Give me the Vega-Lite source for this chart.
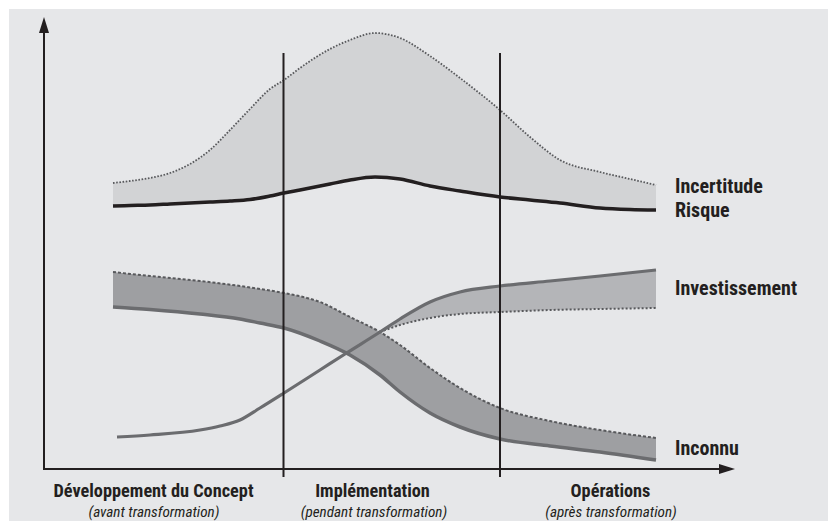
{
  "$schema": "https://vega.github.io/schema/vega-lite/v6.json",
  "width": 819,
  "height": 512,
  "autosize": {"type": "none"},
  "padding": {"left": 9, "top": 9, "right": 4, "bottom": 0},
  "background": "#ffffff",
  "config": {"view": {"fill": "#e6e7e9", "stroke": null}},
  "datasets": {
    "bands": [
      {"b": "unc", "t": 69, "v": 286, "v2": 263},
      {"b": "unc", "t": 86, "v": 288, "v2": 263.5},
      {"b": "unc", "t": 106, "v": 291, "v2": 264},
      {"b": "unc", "t": 126, "v": 296, "v2": 265},
      {"b": "unc", "t": 146, "v": 305, "v2": 266},
      {"b": "unc", "t": 166, "v": 319, "v2": 267},
      {"b": "unc", "t": 186, "v": 339, "v2": 268},
      {"b": "unc", "t": 206, "v": 360, "v2": 269.5},
      {"b": "unc", "t": 226, "v": 380, "v2": 273},
      {"b": "unc", "t": 240, "v": 389, "v2": 276},
      {"b": "unc", "t": 256, "v": 401, "v2": 279},
      {"b": "unc", "t": 286, "v": 420, "v2": 285},
      {"b": "unc", "t": 306, "v": 429, "v2": 289},
      {"b": "unc", "t": 331, "v": 436, "v2": 292},
      {"b": "unc", "t": 356, "v": 431, "v2": 290},
      {"b": "unc", "t": 386, "v": 413, "v2": 283},
      {"b": "unc", "t": 416, "v": 391, "v2": 278},
      {"b": "unc", "t": 456, "v": 359, "v2": 272},
      {"b": "unc", "t": 486, "v": 332, "v2": 269},
      {"b": "unc", "t": 516, "v": 309, "v2": 266},
      {"b": "unc", "t": 556, "v": 297, "v2": 261},
      {"b": "unc", "t": 586, "v": 290, "v2": 259.5},
      {"b": "unc", "t": 612, "v": 284, "v2": 259},
      {"b": "unk", "t": 69, "v": 197, "v2": 162},
      {"b": "unk", "t": 106, "v": 193, "v2": 159.5},
      {"b": "unk", "t": 156, "v": 188, "v2": 155},
      {"b": "unk", "t": 196, "v": 183, "v2": 150},
      {"b": "unk", "t": 216, "v": 180, "v2": 146},
      {"b": "unk", "t": 240, "v": 176, "v2": 141},
      {"b": "unk", "t": 276, "v": 167, "v2": 128},
      {"b": "unk", "t": 306, "v": 152, "v2": 114},
      {"b": "unk", "t": 336, "v": 137, "v2": 94},
      {"b": "unk", "t": 356, "v": 124, "v2": 77},
      {"b": "unk", "t": 386, "v": 101, "v2": 56},
      {"b": "unk", "t": 416, "v": 81, "v2": 42},
      {"b": "unk", "t": 456, "v": 61, "v2": 30},
      {"b": "unk", "t": 506, "v": 48, "v2": 23},
      {"b": "unk", "t": 556, "v": 39, "v2": 17},
      {"b": "unk", "t": 612, "v": 31, "v2": 9},
      {"b": "inv", "t": 336, "v": 137, "v2": 137},
      {"b": "inv", "t": 356, "v": 150, "v2": 144},
      {"b": "inv", "t": 386, "v": 167, "v2": 151},
      {"b": "inv", "t": 416, "v": 177, "v2": 155},
      {"b": "inv", "t": 456, "v": 183, "v2": 157},
      {"b": "inv", "t": 506, "v": 188, "v2": 159},
      {"b": "inv", "t": 556, "v": 193, "v2": 160},
      {"b": "inv", "t": 612, "v": 199, "v2": 161}
    ],
    "curves": [
      {"c": "uncUp", "t": 69, "v": 286}, {"c": "uncUp", "t": 86, "v": 288}, {"c": "uncUp", "t": 106, "v": 291},
      {"c": "uncUp", "t": 126, "v": 296}, {"c": "uncUp", "t": 146, "v": 305}, {"c": "uncUp", "t": 166, "v": 319},
      {"c": "uncUp", "t": 186, "v": 339}, {"c": "uncUp", "t": 206, "v": 360}, {"c": "uncUp", "t": 226, "v": 380},
      {"c": "uncUp", "t": 240, "v": 389}, {"c": "uncUp", "t": 256, "v": 401}, {"c": "uncUp", "t": 286, "v": 420},
      {"c": "uncUp", "t": 306, "v": 429}, {"c": "uncUp", "t": 331, "v": 436}, {"c": "uncUp", "t": 356, "v": 431},
      {"c": "uncUp", "t": 386, "v": 413}, {"c": "uncUp", "t": 416, "v": 391}, {"c": "uncUp", "t": 456, "v": 359},
      {"c": "uncUp", "t": 486, "v": 332}, {"c": "uncUp", "t": 516, "v": 309}, {"c": "uncUp", "t": 556, "v": 297},
      {"c": "uncUp", "t": 586, "v": 290}, {"c": "uncUp", "t": 612, "v": 284},
      {"c": "uncLo", "t": 69, "v": 263}, {"c": "uncLo", "t": 86, "v": 263.5}, {"c": "uncLo", "t": 106, "v": 264},
      {"c": "uncLo", "t": 126, "v": 265}, {"c": "uncLo", "t": 146, "v": 266}, {"c": "uncLo", "t": 166, "v": 267},
      {"c": "uncLo", "t": 186, "v": 268}, {"c": "uncLo", "t": 206, "v": 269.5}, {"c": "uncLo", "t": 226, "v": 273},
      {"c": "uncLo", "t": 240, "v": 276}, {"c": "uncLo", "t": 256, "v": 279}, {"c": "uncLo", "t": 286, "v": 285},
      {"c": "uncLo", "t": 306, "v": 289}, {"c": "uncLo", "t": 331, "v": 292}, {"c": "uncLo", "t": 356, "v": 290},
      {"c": "uncLo", "t": 386, "v": 283}, {"c": "uncLo", "t": 416, "v": 278}, {"c": "uncLo", "t": 456, "v": 272},
      {"c": "uncLo", "t": 486, "v": 269}, {"c": "uncLo", "t": 516, "v": 266}, {"c": "uncLo", "t": 556, "v": 261},
      {"c": "uncLo", "t": 586, "v": 259.5}, {"c": "uncLo", "t": 612, "v": 259},
      {"c": "unkUp", "t": 69, "v": 197}, {"c": "unkUp", "t": 106, "v": 193}, {"c": "unkUp", "t": 156, "v": 188},
      {"c": "unkUp", "t": 196, "v": 183}, {"c": "unkUp", "t": 216, "v": 180}, {"c": "unkUp", "t": 240, "v": 176},
      {"c": "unkUp", "t": 276, "v": 167}, {"c": "unkUp", "t": 306, "v": 152}, {"c": "unkUp", "t": 336, "v": 137},
      {"c": "unkUp", "t": 356, "v": 124}, {"c": "unkUp", "t": 386, "v": 101}, {"c": "unkUp", "t": 416, "v": 81},
      {"c": "unkUp", "t": 456, "v": 61}, {"c": "unkUp", "t": 506, "v": 48}, {"c": "unkUp", "t": 556, "v": 39},
      {"c": "unkUp", "t": 612, "v": 31},
      {"c": "unkLo", "t": 69, "v": 162}, {"c": "unkLo", "t": 106, "v": 159.5}, {"c": "unkLo", "t": 156, "v": 155},
      {"c": "unkLo", "t": 196, "v": 150}, {"c": "unkLo", "t": 216, "v": 146}, {"c": "unkLo", "t": 240, "v": 141},
      {"c": "unkLo", "t": 276, "v": 128}, {"c": "unkLo", "t": 306, "v": 114}, {"c": "unkLo", "t": 336, "v": 94},
      {"c": "unkLo", "t": 356, "v": 77}, {"c": "unkLo", "t": 386, "v": 56}, {"c": "unkLo", "t": 416, "v": 42},
      {"c": "unkLo", "t": 456, "v": 30}, {"c": "unkLo", "t": 506, "v": 23}, {"c": "unkLo", "t": 556, "v": 17},
      {"c": "unkLo", "t": 612, "v": 9},
      {"c": "invLo", "t": 336, "v": 137}, {"c": "invLo", "t": 356, "v": 144}, {"c": "invLo", "t": 386, "v": 151},
      {"c": "invLo", "t": 416, "v": 155}, {"c": "invLo", "t": 456, "v": 157}, {"c": "invLo", "t": 506, "v": 159},
      {"c": "invLo", "t": 556, "v": 160}, {"c": "invLo", "t": 612, "v": 161},
      {"c": "inv", "t": 73, "v": 32}, {"c": "inv", "t": 106, "v": 34}, {"c": "inv", "t": 156, "v": 39},
      {"c": "inv", "t": 176, "v": 43}, {"c": "inv", "t": 196, "v": 49}, {"c": "inv", "t": 216, "v": 61},
      {"c": "inv", "t": 240, "v": 76}, {"c": "inv", "t": 276, "v": 99}, {"c": "inv", "t": 301, "v": 115},
      {"c": "inv", "t": 336, "v": 137}, {"c": "inv", "t": 356, "v": 150}, {"c": "inv", "t": 386, "v": 167},
      {"c": "inv", "t": 416, "v": 177}, {"c": "inv", "t": 456, "v": 183}, {"c": "inv", "t": 506, "v": 188},
      {"c": "inv", "t": 556, "v": 193}, {"c": "inv", "t": 612, "v": 199}
    ],
    "vrules": [
      {"name": "yAxis", "t": 0, "v": -1, "v2": 437},
      {"name": "phase1", "t": 239.5, "v": -8, "v2": 416},
      {"name": "phase2", "t": 456, "v": -8, "v2": 416}
    ],
    "hrules": [
      {"name": "xAxis", "t": -1, "t2": 676, "v": 0}
    ],
    "arrowsUp": [{"t": 0, "v": 444}],
    "arrowsRight": [{"t": 683, "v": 0}],
    "rightLabels": [
      {"t": 631, "v": 276, "text": "Incertitude"},
      {"t": 631, "v": 252, "text": "Risque"},
      {"t": 631, "v": 174, "text": "Investissement"},
      {"t": 631, "v": 14, "text": "Inconnu"}
    ],
    "phaseTitles": [
      {"t": 109.5, "v": -28, "text": "Développement du Concept"},
      {"t": 328.5, "v": -28, "text": "Implémentation"},
      {"t": 566.5, "v": -28, "text": "Opérations"}
    ],
    "phaseSubs": [
      {"t": 110, "v": -47.5, "text": "(avant transformation)"},
      {"t": 330, "v": -47.5, "text": "(pendant transformation)"},
      {"t": 567, "v": -47.5, "text": "(après transformation)"}
    ]
  },
  "encoding": {
    "x": {"field": "t", "type": "quantitative", "scale": {"domain": [-35, 784], "nice": false, "zero": false}, "axis": null},
    "y": {"field": "v", "type": "quantitative", "scale": {"domain": [-52, 460], "nice": false, "zero": false}, "axis": null}
  },
  "layer": [
    {"data": {"name": "bands"}, "transform": [{"filter": "datum.b === 'unc'"}],
     "mark": {"type": "area", "interpolate": "monotone", "color": "#d2d3d5"},
     "encoding": {"y2": {"field": "v2"}}},
    {"data": {"name": "bands"}, "transform": [{"filter": "datum.b === 'unk'"}],
     "mark": {"type": "area", "interpolate": "monotone", "color": "#9e9fa2"},
     "encoding": {"y2": {"field": "v2"}}},
    {"data": {"name": "bands"}, "transform": [{"filter": "datum.b === 'inv'"}],
     "mark": {"type": "area", "interpolate": "monotone", "color": "#b4b5b8"},
     "encoding": {"y2": {"field": "v2"}}},
    {"data": {"name": "curves"}, "transform": [{"filter": "datum.c === 'uncUp'"}],
     "mark": {"type": "line", "interpolate": "monotone", "color": "#58595c", "strokeWidth": 1.8, "strokeDash": [1.6, 1.6]},
     "encoding": {}},
    {"data": {"name": "curves"}, "transform": [{"filter": "datum.c === 'uncLo'"}],
     "mark": {"type": "line", "interpolate": "monotone", "color": "#231f20", "strokeWidth": 3.5},
     "encoding": {}},
    {"data": {"name": "curves"}, "transform": [{"filter": "datum.c === 'unkUp'"}],
     "mark": {"type": "line", "interpolate": "monotone", "color": "#58595c", "strokeWidth": 2, "strokeDash": [3, 2]},
     "encoding": {}},
    {"data": {"name": "curves"}, "transform": [{"filter": "datum.c === 'unkLo'"}],
     "mark": {"type": "line", "interpolate": "monotone", "color": "#6b6c6f", "strokeWidth": 3.5},
     "encoding": {}},
    {"data": {"name": "curves"}, "transform": [{"filter": "datum.c === 'invLo'"}],
     "mark": {"type": "line", "interpolate": "monotone", "color": "#58595c", "strokeWidth": 2, "strokeDash": [2, 2]},
     "encoding": {}},
    {"data": {"name": "curves"}, "transform": [{"filter": "datum.c === 'inv'"}],
     "mark": {"type": "line", "interpolate": "monotone", "color": "#6b6c6f", "strokeWidth": 3.2},
     "encoding": {}},
    {"data": {"name": "vrules"},
     "mark": {"type": "rule", "color": "#231f20", "strokeWidth": 2},
     "encoding": {"y2": {"field": "v2"}}},
    {"data": {"name": "hrules"},
     "mark": {"type": "rule", "color": "#231f20", "strokeWidth": 2},
     "encoding": {"x2": {"field": "t2"}}},
    {"data": {"name": "arrowsUp"},
     "mark": {"type": "point", "shape": "M0,-1L0.625,1L-0.625,1Z", "size": 256, "filled": true, "color": "#231f20", "opacity": 1, "strokeWidth": 0},
     "encoding": {}},
    {"data": {"name": "arrowsRight"},
     "mark": {"type": "point", "shape": "M1,0L-1,0.625L-1,-0.625Z", "size": 256, "filled": true, "color": "#231f20", "opacity": 1, "strokeWidth": 0},
     "encoding": {}},
    {"data": {"name": "rightLabels"},
     "mark": {"type": "text", "align": "left", "baseline": "alphabetic", "font": "Roboto Condensed, Roboto", "fontWeight": "bold", "fontSize": 20, "color": "#231f20"},
     "encoding": {"text": {"field": "text"}}},
    {"data": {"name": "phaseTitles"},
     "mark": {"type": "text", "align": "center", "baseline": "alphabetic", "font": "Roboto Condensed, Roboto", "fontWeight": "bold", "fontSize": 18.3, "color": "#231f20"},
     "encoding": {"text": {"field": "text"}}},
    {"data": {"name": "phaseSubs"},
     "mark": {"type": "text", "align": "center", "baseline": "alphabetic", "font": "Roboto Condensed, Roboto", "fontStyle": "italic", "fontSize": 15.2, "color": "#231f20"},
     "encoding": {"text": {"field": "text"}}}
  ]
}
